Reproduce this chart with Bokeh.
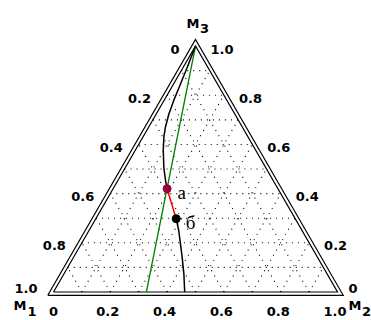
import math
from bokeh.plotting import figure
from bokeh.models import Range1d
from bokeh.embed import file_html
from bokeh.resources import INLINE
from bokeh.core.properties import value

# ---------------- data (mole fractions) ----------------
# black curve, upper branch: from M3 vertex to point "а"
upper_m2 = [0.000, 0.014, 0.024, 0.034, 0.044, 0.059, 0.074, 0.099, 0.135, 0.168, 0.190]
upper_m3 = [1.000, 0.914, 0.847, 0.779, 0.725, 0.670, 0.629, 0.575, 0.507, 0.453, 0.420]
# black curve, lower branch: from point "б" to the M1-M2 side
lower_m2 = [0.283, 0.316, 0.349, 0.382, 0.422, 0.462]
lower_m3 = [0.298, 0.250, 0.196, 0.142, 0.074, 0.000]
# green straight line
green_m2 = [0.000, 0.327]
green_m3 = [1.000, 0.000]
# marked points
point_names = ["а", "б"]
point_m2 = [0.190, 0.283]
point_m3 = [0.420, 0.298]
point_colors = ["#99003d", "#000000"]
# ticks / grid
tick_values = [0.0, 0.2, 0.4, 0.6, 0.8, 1.0]
tick_labels = ["0", "0.2", "0.4", "0.6", "0.8", "1.0"]
grid_values = [0.1, 0.2, 0.3, 0.4, 0.5, 0.6, 0.7, 0.8, 0.9]
vertex_names = ["M", "M", "M"]
vertex_subs = ["1", "2", "3"]

H = math.sqrt(3) / 2
S = 284.0          # pixels per unit side
PX = 1.0 / S       # one pixel in data units
W, HT = 371, 320
X0, Y0 = 53.0, 291.5   # pixel position of the M1 vertex


def tx(m2, m3):
    return [a + b / 2 for a, b in zip(m2, m3)]


def ty(m3):
    return [b * H for b in m3]


p = figure(width=W, height=HT, output_backend="svg", toolbar_location=None,
           x_range=Range1d(-X0 * PX, (W - X0) * PX),
           y_range=Range1d((Y0 - HT) * PX, Y0 * PX),
           x_axis_location=None, y_axis_location=None, min_border=0,
           background_fill_color="white", border_fill_color="white")
p.grid.visible = False
p.outline_line_color = None

# ---------------- dotted grid ----------------
gx, gy = [], []
for k in grid_values:
    gx.append(tx([0.0, 1 - k], [k, k])); gy.append(ty([k, k]))
    gx.append(tx([k, k], [0.0, 1 - k])); gy.append(ty([0.0, 1 - k]))
    gx.append(tx([1 - k, 0.0], [0.0, 1 - k])); gy.append(ty([0.0, 1 - k]))
p.multi_line(gx, gy, line_color="#000000", line_width=1.1, line_dash="1 5", line_alpha=1.0)

# ---------------- double triangle frame ----------------
p.line(tx([0, 1, 0, 0], [0, 0, 1, 0]), ty([0, 0, 1, 0]), line_color="black",
       line_width=1.2, line_join="miter")
d = 3.3 * PX
ox = [-d * math.sqrt(3), 1 + d * math.sqrt(3), 0.5, -d * math.sqrt(3)]
oy = [-d, -d, H + 2 * d, -d]
p.line(ox, oy, line_color="black", line_width=1.2, line_join="miter")

# ---------------- curves ----------------
p.line(tx(green_m2, green_m3), ty(green_m3), line_color="#008000", line_width=1.3)
p.line(tx(upper_m2, upper_m3), ty(upper_m3), line_color="black", line_width=1.5)
p.line(tx(lower_m2, lower_m3), ty(lower_m3), line_color="black", line_width=1.5)
p.line(tx(point_m2, point_m3), ty(point_m3), line_color="#ff0000", line_width=1.5)
p.scatter(tx(point_m2, point_m3), ty(point_m3), size=8, fill_color=point_colors,
          line_color=point_colors)
px_ = tx(point_m2, point_m3)
py_ = ty(point_m3)
p.text([px_[0] + 10.5 * PX, px_[1] + 9.5 * PX], [py_[0] - 3.5 * PX, py_[1] - 3.5 * PX],
       text=point_names, text_font=value("Liberation Serif"), text_font_size="19px",
       text_align="left", text_baseline="alphabetic", text_color="black")

# ---------------- tick labels ----------------
fnt = dict(text_font=value("DejaVu Sans"), text_font_style="bold",
           text_font_size="13px", text_color="black", text_baseline="middle")
# bottom side (M2)
bx = [v - (2.5 * PX if v > 0 else 0) for v in tick_values]
by = [-19 * PX] * len(tick_values)
p.text(bx, by, text=tick_labels, text_align="center", **fnt)
# left side (M1): point with M1=v, M2=0
lx, ly = [], []
for v in tick_values:
    m3 = 1 - v
    lx.append(m3 / 2 - 16 * PX)
    ly.append(m3 * H - (3 * PX if v < 1 else -4 * PX))
p.text(lx, ly, text=tick_labels, text_align="right", **fnt)
# right side (M3): point with M3=v, M1=0
rx, ry = [], []
for v in tick_values:
    rx.append(1 - v / 2 + (15 * PX if v > 0 else 11 * PX))
    ry.append(v * H - (3 * PX if v > 0 else -4 * PX))
p.text(rx, ry, text=tick_labels, text_align="left", **fnt)

# ---------------- vertex labels ----------------
mx = [-40 * PX, 1 + 11 * PX, 0.5 - 9 * PX]
my = [-13.5 * PX, -13.5 * PX, H + 23 * PX]
p.text(mx, my, text=vertex_names, text_align="left", **fnt)
sx = [mx[0] + 14 * PX, mx[1] + 13.5 * PX, mx[2] + 13.5 * PX]
sy = [my[0] - 5.5 * PX, my[1] - 5.5 * PX, my[2] - 5.5 * PX]
p.text(sx, sy, text=vertex_subs, text_align="left", **fnt)

open("out.html", "w").write(file_html(p, INLINE))
